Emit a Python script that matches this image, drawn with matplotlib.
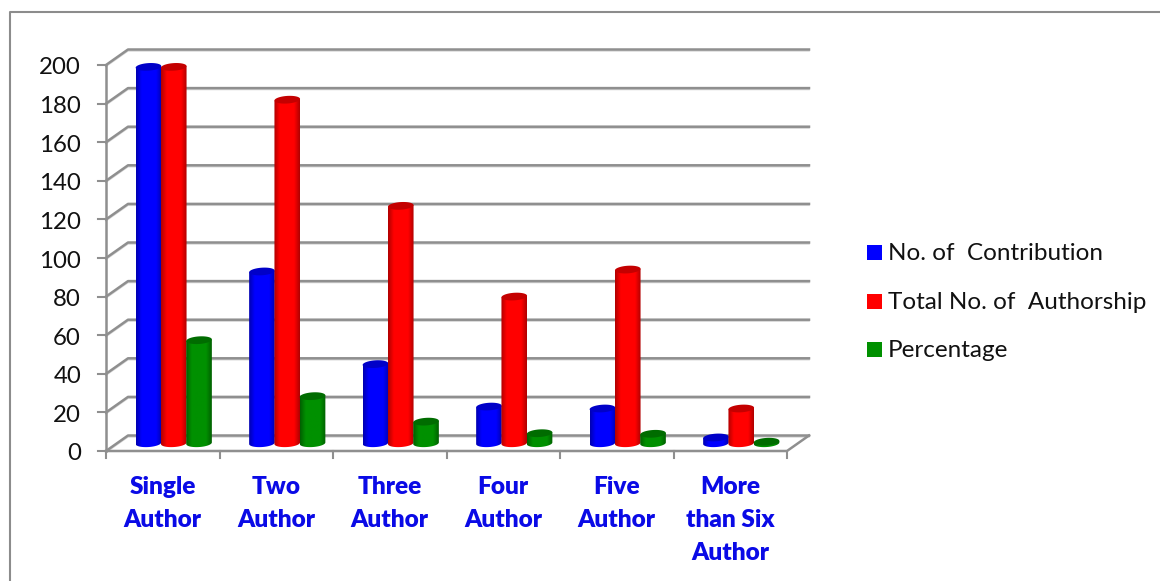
import numpy as np
import matplotlib
matplotlib.use("Agg")
import matplotlib.pyplot as plt
from matplotlib.patches import PathPatch, Polygon, Rectangle
from matplotlib.path import Path
from matplotlib.colors import LinearSegmentedColormap

categories = ["Single\nAuthor", "Two\nAuthor", "Three\nAuthor",
              "Four\nAuthor", "Five\nAuthor", "More\nthan Six\nAuthor"]
contribution = [195, 89, 41, 19, 18, 3]
authorship = [195, 178, 123, 76, 90, 18]
percentage = [53.4, 24.4, 11.2, 5.2, 4.9, 0.8]
series_names = ["No. of  Contribution", "Total No. of  Authorship", "Percentage"]
y_ticks = list(range(0, 201, 20))

W, H = 1160, 581
fonts = ["Lato", "DejaVu Sans"]
plt.rcParams["font.family"] = fonts

fig = plt.figure(figsize=(W / 100, H / 100), dpi=100, facecolor="white")

# Outer chart frame, in figure pixels
frame = fig.add_axes([0, 0, 1, 1], zorder=0)
frame.set_xlim(0, W)
frame.set_ylim(H, 0)
frame.axis("off")
frame.plot([10, 10, W], [H, 12, 12], color="#8c8c8c", lw=1.5)

# Front plane of the 3-D box: one unit per category across, value units upward
left, right, y0, y200 = 106, 787, 451, 65
ax = fig.add_axes([left / W, 1 - y0 / H, (right - left) / W, (y0 - y200) / H], zorder=1)
ax.axis("off")

n = len(categories)
px_x = n / (right - left)
px_y = 200 / (y0 - y200)
depth_x, depth_y = 22 * px_x, 15.5 * px_y
GRID = "#8f8f8f"
SHADOW = "#d4d4d4"


def line(xs, ys, **kw):
    ax.plot(xs, ys, clip_on=False, solid_capstyle="projecting", **kw)


# Back-wall gridlines with the left-wall diagonals and their soft shadow
for v in y_ticks:
    xs = [0, depth_x, n + depth_x]
    ys = [v, v + depth_y, v + depth_y]
    line(xs, [y - 1.3 * px_y for y in ys], color=SHADOW, lw=1.2, zorder=1)
    line(xs, ys, color=GRID, lw=1.8, zorder=2)
    line([-8 * px_x, 0], [v, v], color=GRID, lw=1.5, zorder=2)

# Floor edges, value axis and category ticks
line([0, n, n + depth_x], [0, 0, depth_y], color=GRID, lw=1.8, zorder=2)
line([0, 0], [0, 200], color=GRID, lw=1.8, zorder=2)
for i in range(n + 1):
    line([i, i], [0, -7 * px_y], color=GRID, lw=1.5, zorder=2)

for v in y_ticks:
    ax.text(-25 * px_x, v - 1 * px_y, str(v), ha="right", va="center_baseline",
            fontsize=17.3, color="#111111")
for i, label in enumerate(categories):
    for k, part in enumerate(label.split("\n")):
        ax.text(i + 0.5, (-34 - 33 * k) * px_y, part, ha="center", va="center_baseline",
                fontsize=17.6, weight="heavy", color="#0a0ae6")


def shade(base, edge):
    return LinearSegmentedColormap.from_list(
        "c", [(0, edge), (0.22, base), (0.78, base), (1, edge)], N=64)


def cylinder(xc, value, base, edge, cap, order):
    half = 12.8 * px_x
    ry = 3.8 * px_y
    tilt = 0.8 * px_y
    y_b = depth_y / 2
    y_t = y_b + value
    # Body outline: straight sides with a rounded, slightly tilted lower edge
    t = np.linspace(np.pi, 2 * np.pi, 40)
    bottom = np.column_stack([xc + half * np.cos(t),
                              y_b + ry * np.sin(t) + tilt * np.cos(t)])
    verts = np.vstack([[[xc - half, y_t - tilt]], bottom, [[xc + half, y_t + tilt]],
                       [[xc - half, y_t - tilt]]])
    body = PathPatch(Path(verts), fc="none", ec="none", zorder=order)
    ax.add_patch(body)
    im = ax.imshow(np.linspace(0, 1, 64)[None, :], cmap=shade(base, edge), aspect="auto",
                   extent=[xc - half, xc + half, y_b - ry - tilt, y_t + tilt], zorder=order)
    im.set_clip_path(body)
    # Top cap as the same tilted ellipse, closed
    t = np.linspace(0, 2 * np.pi, 80)
    ax.add_patch(Polygon(np.column_stack([xc + half * np.cos(t),
                                          y_t + ry * np.sin(t) + tilt * np.cos(t)]),
                         closed=True, fc=cap, ec="none", zorder=order + 0.1, clip_on=False))


styles = [("#0000ff", "#0000b0", "#0000c8"),
          ("#ff0000", "#b00000", "#c40000"),
          ("#009000", "#006000", "#006c00")]
spacing = 25.3 * px_x
center = 0.5 + depth_x / 2
for s, values in enumerate([contribution, authorship, percentage]):
    for i, value in enumerate(values):
        xc = i + center + (s - 1) * spacing
        cylinder(xc, value, *styles[s], 5 + s + 0.01 * i)
ax.set_xlim(0, n)
ax.set_ylim(0, 200)

# Legend
for name, (base, _, _), y in zip(series_names, styles, [252, 301, 349]):
    frame.add_patch(Rectangle((867, y - 7.5), 15, 15, fc=base, ec="none"))
    frame.text(888, y - 0.5, name, ha="left", va="center_baseline", fontsize=17.5,
               color="#111111")

fig.savefig("out.png", dpi=100)
